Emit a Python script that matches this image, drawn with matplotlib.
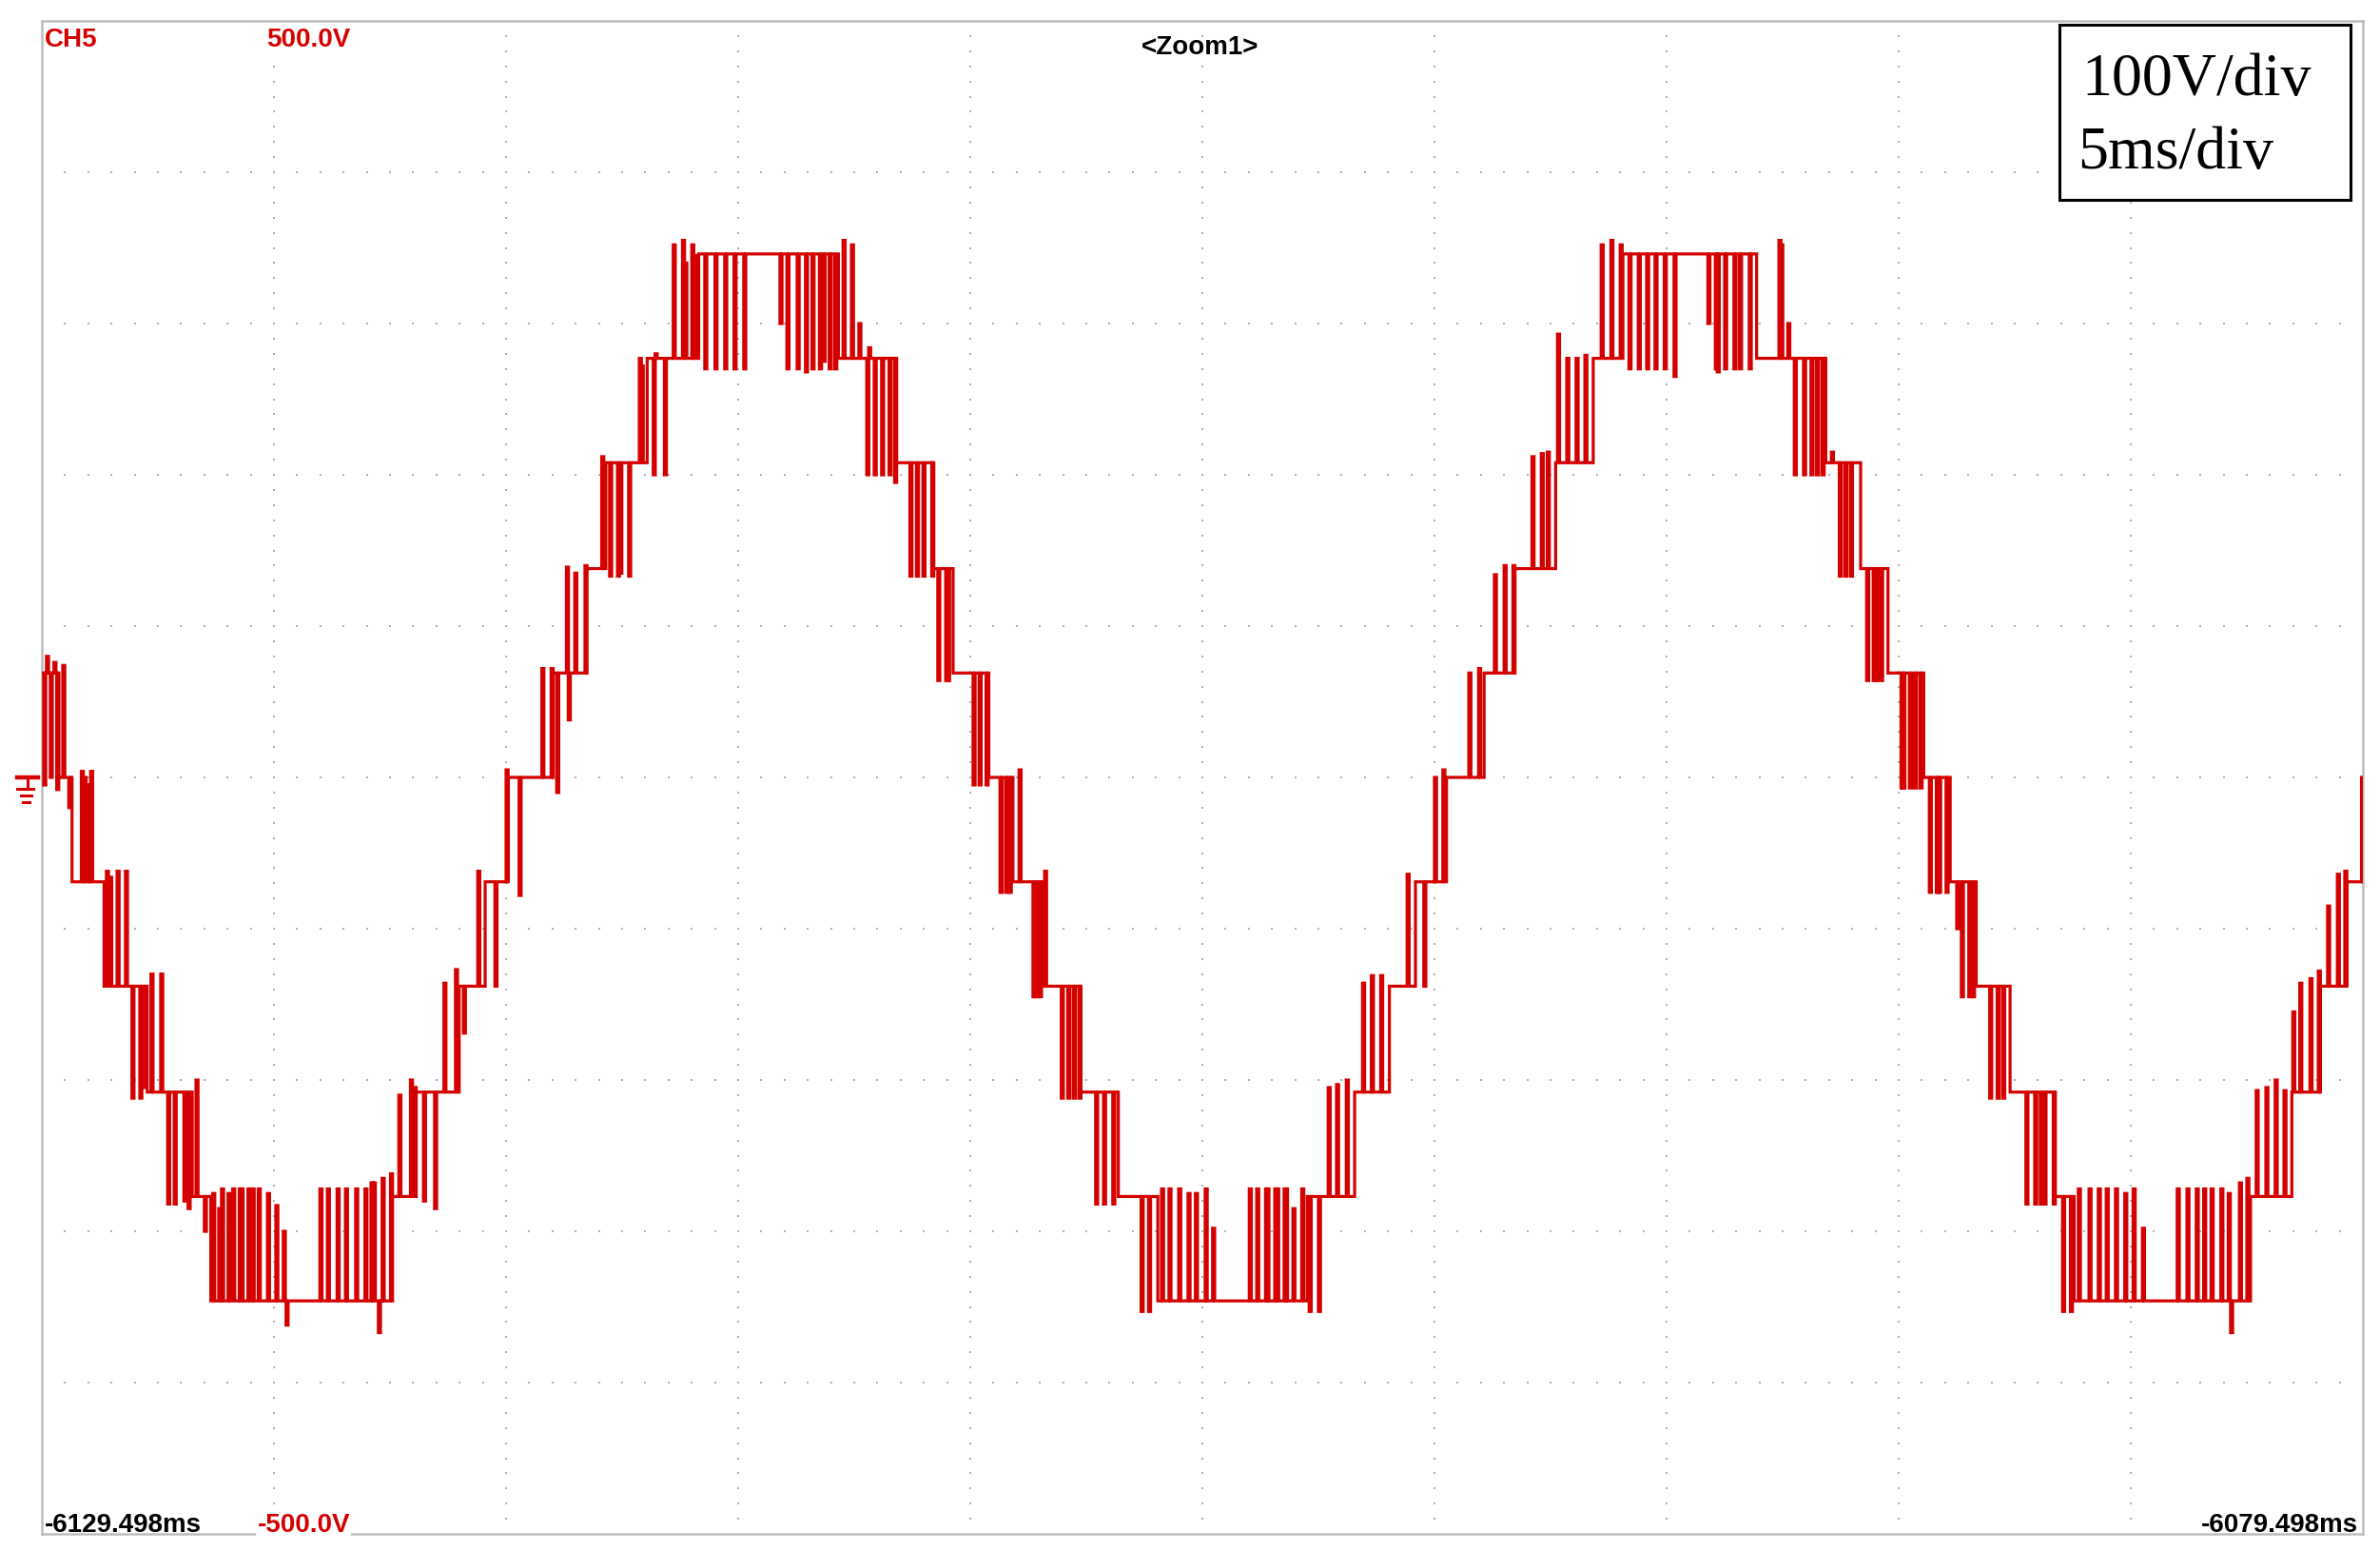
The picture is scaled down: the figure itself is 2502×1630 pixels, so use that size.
#!/usr/bin/env python
# Scope capture: 11-level inverter output voltage, 100 V/div, 5 ms/div

import numpy as np
import matplotlib
matplotlib.use("Agg")
import matplotlib.pyplot as plt
from matplotlib.patches import Rectangle
from matplotlib.lines import Line2D

# screen range (10 div each way)
t_range = [0.0, 50.0]       # ms
v_range = [-500.0, 500.0]   # V

# staircase: start time (ms) of each plateau and its level (V)
step_t = [0.00, 0.36, 0.65, 1.34, 2.27, 3.24, 3.64, 7.53, 8.06, 8.99,
          9.55, 10.04, 11.01, 11.72, 12.15, 13.04, 14.15, 17.16, 18.40, 19.18,
          19.63, 20.40, 20.92, 21.53, 22.38, 23.19, 24.04, 27.26, 28.28, 29.03,
          29.59, 30.26, 31.07, 31.72, 32.61, 33.42, 34.06, 36.94, 38.43, 39.18,
          39.77, 40.54, 41.11, 41.67, 42.40, 43.37, 43.78, 47.58, 48.47, 49.08,
          49.65]
step_v = [69, 0, -69, -138, -208, -277, -346, -277, -208, -138,
          -69, 0, 69, 138, 208, 277, 346, 277, 208, 138,
          69, 0, -69, -138, -208, -277, -346, -277, -208, -138,
          -69, 0, 69, 138, 208, 277, 346, 277, 208, 138,
          69, 0, -69, -138, -208, -277, -346, -277, -208, -138,
          -69]

# switching spikes: time (ms) and the voltage the spike reaches (V)
spike_t = [0.04, 0.10, 0.18, 0.26, 0.32, 0.45, 0.58, 0.85, 0.91, 0.99,
           1.05, 1.39, 1.46, 1.62, 1.80, 1.94, 2.11, 2.17, 2.35, 2.56,
           2.71, 2.85, 3.06, 3.15, 3.32, 3.50, 3.68, 3.81, 3.87, 4.01,
           4.11, 4.25, 4.29, 4.44, 4.53, 4.66, 4.86, 5.04, 5.20, 5.26,
           5.99, 6.15, 6.36, 6.54, 6.76, 6.96, 7.09, 7.14, 7.25, 7.33,
           7.51, 7.69, 7.94, 8.02, 8.22, 8.46, 8.66, 8.91, 9.08, 9.39,
           9.76, 10.00, 10.28, 10.77, 10.97, 11.09, 11.30, 11.34, 11.48, 11.70,
           12.06, 12.23, 12.40, 12.45, 12.64, 12.87, 12.91, 13.17, 13.21, 13.41,
           13.60, 13.80, 13.85, 14.00, 14.04, 14.28, 14.50, 14.71, 14.91, 15.12,
           15.90, 16.05, 16.27, 16.45, 16.59, 16.75, 16.83, 16.96, 17.08, 17.26,
           17.44, 17.60, 17.77, 17.81, 17.93, 18.09, 18.25, 18.37, 18.70, 18.84,
           18.98, 19.17, 19.30, 19.47, 19.51, 20.06, 20.19, 20.34, 20.64, 20.76,
           20.84, 21.05, 21.35, 21.41, 21.49, 21.60, 21.96, 22.10, 22.22, 22.34,
           22.70, 22.87, 23.07, 23.68, 23.84, 24.12, 24.28, 24.49, 24.69, 24.85,
           25.06, 25.22, 26.01, 26.17, 26.36, 26.39, 26.56, 26.60, 26.76, 26.79,
           26.95, 27.14, 27.30, 27.50, 27.71, 27.89, 28.10, 28.45, 28.64, 28.84,
           29.41, 29.77, 30.00, 30.18, 30.74, 30.95, 31.29, 31.50, 31.69, 32.10,
           32.30, 32.43, 32.65, 32.85, 33.05, 33.24, 33.59, 33.80, 34.00, 34.19,
           34.39, 34.57, 34.75, 34.95, 35.16, 35.89, 36.05, 36.09, 36.25, 36.45,
           36.57, 36.78, 37.42, 37.46, 37.61, 37.75, 37.95, 38.11, 38.23, 38.35,
           38.55, 38.72, 38.84, 38.96, 39.31, 39.45, 39.50, 39.61, 40.05, 40.09,
           40.23, 40.34, 40.46, 40.66, 40.81, 40.86, 41.02, 41.25, 41.35, 41.51,
           41.59, 41.96, 42.12, 42.24, 42.74, 42.93, 43.05, 43.13, 43.33, 43.53,
           43.70, 43.87, 44.10, 44.30, 44.47, 44.67, 44.87, 45.05, 45.25, 46.00,
           46.21, 46.41, 46.57, 46.73, 46.94, 47.10, 47.15, 47.34, 47.50, 47.70,
           47.91, 48.11, 48.30, 48.49, 48.64, 48.86, 49.04, 49.24, 49.45, 49.61,
           49.97]
spike_v = [-5, 80, 0, 76, -8, 74, -20, 4, 0, -5,
           4, -62, -66, -62, -62, -212, -212, -205, -130, -130,
           -282, -282, -280, -285, -200, -300, -275, -285, -272, -275,
           -272, -272, -272, -272, -272, -272, -275, -283, -300, -362,
           -272, -272, -272, -272, -272, -272, -268, -268, -367, -265,
           -262, -210, -200, -205, -280, -285, -136, -127, -169, -62,
           -138, 5, -78, 72, 72, -10, 139, 38, 135, 140,
           212, 133, 133, 135, 133, 277, 272, 200, 280, 200,
           352, 355, 340, 352, 345, 270, 270, 270, 270, 270,
           300, 270, 270, 268, 270, 270, 275, 270, 270, 355,
           352, 300, 200, 284, 200, 200, 200, 195, 133, 133,
           133, 133, 64, 64, 64, -5, -5, -5, -76, -76,
           -76, 5, -145, -145, -145, -62, -212, -212, -212, -212,
           -282, -282, -282, -353, -353, -272, -272, -272, -275, -275,
           -272, -298, -272, -272, -272, -272, -272, -272, -272, -272,
           -285, -272, -353, -353, -205, -203, -200, -136, -131, -131,
           -64, -138, 0, 5, 69, 72, 134, 140, 140, 212,
           214, 215, 293, 277, 277, 279, 352, 355, 352, 270,
           270, 270, 270, 270, 265, 300, 270, 268, 270, 270,
           270, 270, 355, 352, 300, 200, 200, 200, 200, 200,
           215, 133, 133, 133, 64, 64, 64, 64, -7, -7,
           -7, -7, -7, -76, -76, -76, -76, -100, -145, -145,
           -145, -212, -212, -212, -282, -282, -282, -282, -282, -353,
           -353, -272, -272, -272, -272, -272, -275, -272, -298, -272,
           -272, -272, -272, -272, -272, -275, -367, -268, -265, -207,
           -205, -200, -207, -155, -136, -133, -128, -85, -64, -62,
           0]

ch_label = "CH5"
scale_top = "500.0V"
scale_bottom = "-500.0V"
zoom_label = "<Zoom1>"
time_left = "-6129.498ms"
time_right = "-6079.498ms"
note_lines = ["100V/div", "5ms/div"]

RED = "#d40000"
GRID = "#b0b0b0"
W, H = 2502, 1631


def build_trace(pulse=0.045):
    # walk through level changes and spikes in time order
    events = [(t, 0, v) for t, v in zip(step_t[1:], step_v[1:])]
    events += [(t, 1, v) for t, v in zip(spike_t, spike_v)]
    events.sort()
    xs, ys = [step_t[0]], [step_v[0]]
    cur = step_v[0]
    for t, kind, v in events:
        if kind == 0:
            xs += [t, t]
            ys += [cur, v]
            cur = v
        else:
            xs += [t, t, t + pulse, t + pulse]
            ys += [cur, v, v, cur]
    xs.append(t_range[1])
    ys.append(cur)
    return xs, ys


def fx(px):
    return px / W


def fy(py):
    return 1 - py / H


def main():
    fig = plt.figure(figsize=(W / 100, H / 100), dpi=100)
    ax = fig.add_axes([fx(44), fy(1613), (2484 - 44) / W, (1613 - 23) / H])
    ax.set_xlim(t_range)
    ax.set_ylim(v_range)
    ax.set_xticks([])
    ax.set_yticks([])
    for s in ax.spines.values():
        s.set_color("#bdbdbd")
        s.set_linewidth(1.8)

    # dotted graticule
    for v in np.arange(-400, 401, 100):
        xd = np.arange(0.5, 50, 0.5)
        ax.plot(xd, np.full_like(xd, v), ls="none", marker="s", ms=1.7,
                mew=0, color=GRID, zorder=1)
    for t in np.arange(5, 50, 5):
        yd = np.arange(-490, 491, 10)
        ax.plot(np.full_like(yd, t, dtype=float), yd, ls="none", marker="s",
                ms=1.7, mew=0, color=GRID, zorder=1)

    xs, ys = build_trace()
    ax.plot(xs, ys, color=RED, lw=2.3, solid_joinstyle="miter", zorder=3)

    # scope annotations
    scope_font = dict(family=["Noto Sans Condensed", "Liberation Sans",
                              "DejaVu Sans"],
                      fontweight="bold", fontsize=20)
    bg = dict(facecolor="white", edgecolor="none", pad=1)
    fig.text(fx(47), fy(49), ch_label, color=RED, va="baseline", ha="left",
             **scope_font)
    fig.text(fx(368), fy(49), scale_top, color=RED, va="baseline", ha="right",
             bbox=bg, **scope_font)
    fig.text(fx(1262), fy(57), zoom_label, color="black", va="baseline",
             ha="center", **scope_font)
    fig.text(fx(47), fy(1610), time_left, color="black", va="baseline",
             ha="left", **scope_font)
    fig.text(fx(368), fy(1610), scale_bottom, color=RED, va="baseline",
             ha="right", bbox=bg, **scope_font)
    fig.text(fx(2479), fy(1610), time_right, color="black", va="baseline",
             ha="right", **scope_font)

    # ground reference marker on the left edge
    for (x0, x1, y0, y1, lw) in [(18, 40, 818, 818, 3.2), (29, 29, 818, 830, 2.2),
                                 (18, 35, 830, 830, 2.2), (22, 33, 837, 837, 2.2),
                                 (24, 31, 844, 844, 2.2)]:
        fig.add_artist(Line2D([fx(x0), fx(x1)], [fy(y0), fy(y1)], color=RED,
                              lw=lw, transform=fig.transFigure))

    # scale note box
    fig.add_artist(Rectangle((fx(2165), fy(211)), (2471 - 2165) / W,
                             (211 - 27) / H, transform=fig.transFigure,
                             facecolor="white", edgecolor="black", lw=2.2,
                             zorder=5))
    serif = dict(family=["Liberation Serif", "DejaVu Serif"], fontsize=46,
                 color="black", va="baseline", ha="left", zorder=6)
    fig.text(fx(2188), fy(100), note_lines[0], **serif)
    fig.text(fx(2184), fy(177), note_lines[1], **serif)

    fig.savefig("out.png", dpi=100, facecolor="white")


if __name__ == "__main__":
    main()
